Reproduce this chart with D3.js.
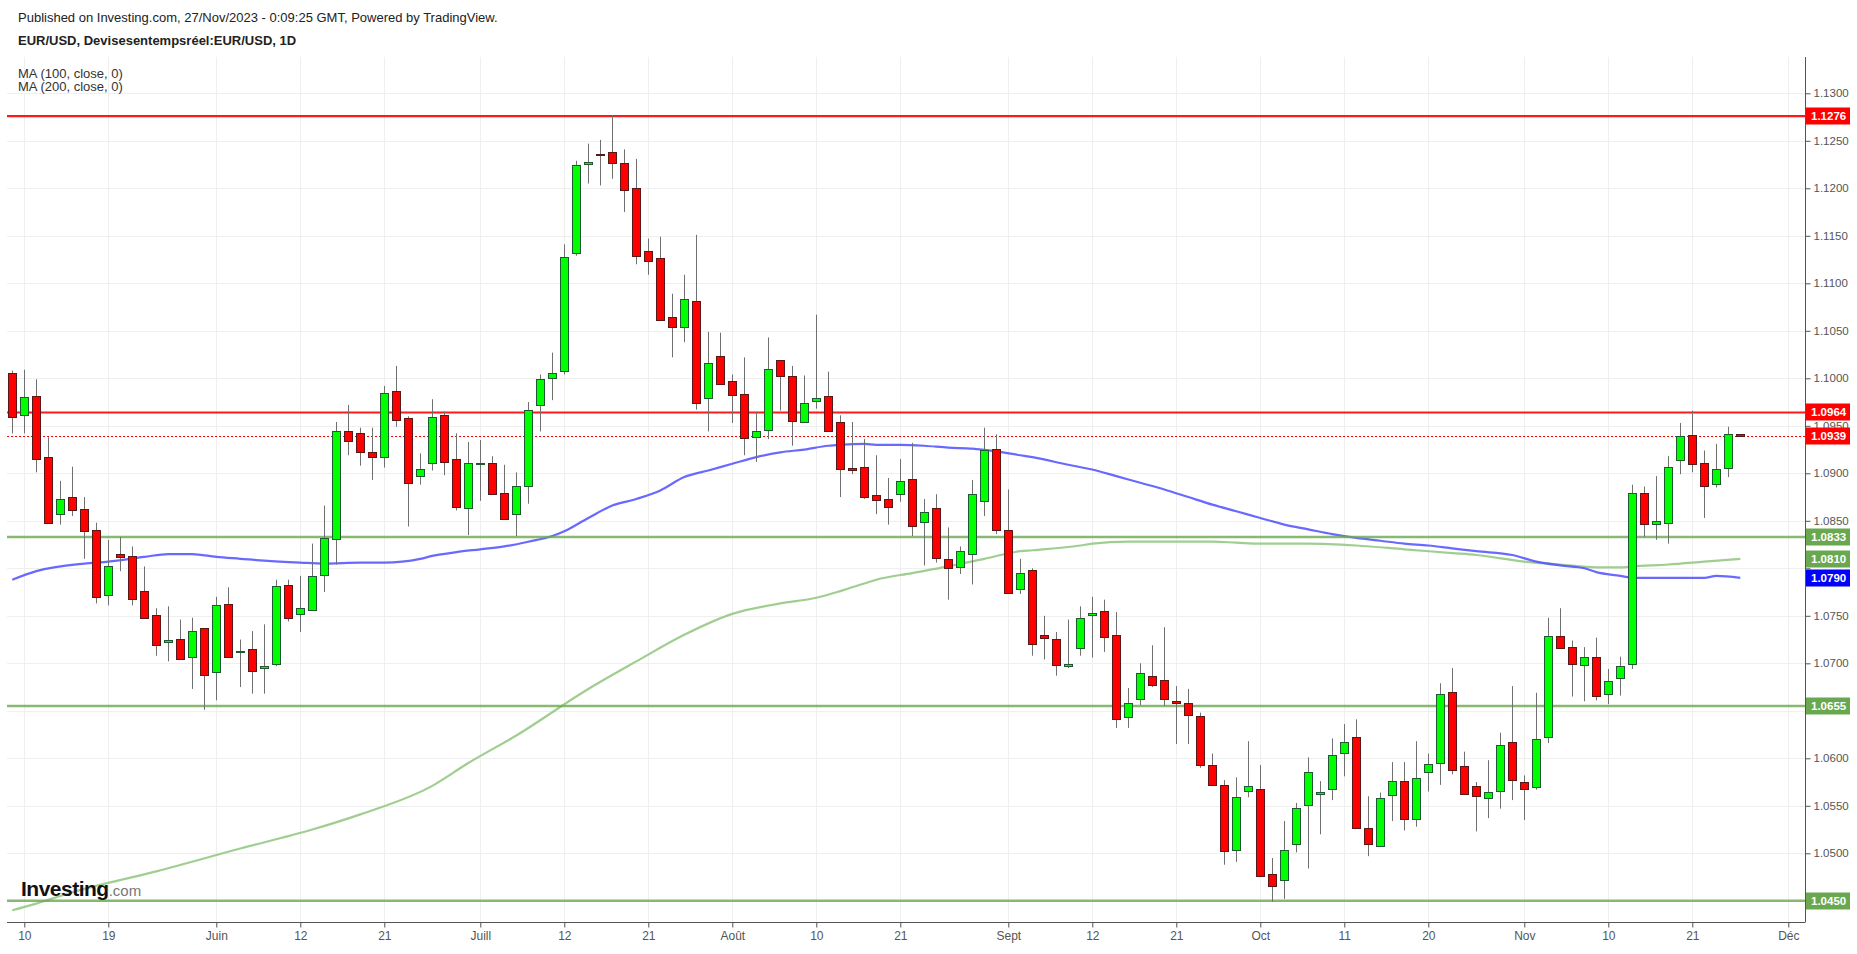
<!DOCTYPE html>
<html><head><meta charset="utf-8">
<script src="https://cdn.jsdelivr.net/npm/d3@7"></script>
<style>
html,body{margin:0;padding:0;background:#fff;}
svg{display:block;font-family:"Liberation Sans",Arial,sans-serif;}
</style></head><body>
<svg id="chart" width="1857" height="954"></svg>
<script>
// ---------- DATA (daily EUR/USD, first candle 2023-05-09, weekdays) ----------
const firstDay = "2023-05-09";
const opens = [1.1006,1.0961,1.0981,1.0917,1.0857,1.0875,1.0862,1.0840,1.0772,1.0815,
1.0813,1.0776,1.0751,1.0722,1.0726,1.0707,1.0737,1.0691,1.0762,1.0712,
1.0715,1.0695,1.0699,1.0782,1.0752,1.0756,1.0793,1.0831,1.0944,1.0942,
1.0922,1.0917,1.0987,1.0958,1.0897,1.0911,1.0961,1.0915,1.0864,1.0910,
1.0911,1.0879,1.0858,1.0887,1.0972,1.1001,1.1008,1.1131,1.1226,1.1236,
1.1238,1.1227,1.1200,1.1134,1.1127,1.1065,1.1054,1.1081,1.0979,1.1023,
1.0997,1.0983,1.0938,1.0946,1.1019,1.1002,1.0954,1.0976,1.0981,1.0954,
1.0906,1.0907,1.0877,1.0873,1.0878,1.0894,1.0848,1.0863,1.0810,1.0801,
1.0815,1.0870,1.0926,1.0840,1.0778,1.0798,1.0730,1.0726,1.0697,1.0716,
1.0751,1.0755,1.0730,1.0643,1.0663,1.0687,1.0682,1.0660,1.0658,1.0645,
1.0593,1.0572,1.0503,1.0566,1.0568,1.0478,1.0471,1.0510,1.0551,1.0563,
1.0567,1.0605,1.0622,1.0527,1.0507,1.0561,1.0576,1.0536,1.0586,1.0595,
1.0670,1.0592,1.0571,1.0558,1.0566,1.0617,1.0575,1.0569,1.0623,1.0729,
1.0717,1.0699,1.0707,1.0667,1.0684,1.0699,1.0879,1.0847,1.0848,1.0914,
1.0940,1.0911,1.0888,1.0905,1.0941];
const highs = [1.1008,1.1009,1.0999,1.0938,1.0892,1.0907,1.0875,1.0848,1.0830,1.0833,
1.0823,1.0802,1.0758,1.0760,1.0746,1.0748,1.0737,1.0770,1.0780,1.0725,
1.0734,1.0741,1.0788,1.0788,1.0792,1.0826,1.0866,1.0954,1.0972,1.0948,
1.0948,1.0992,1.1013,1.0960,1.0921,1.0978,1.0965,1.0942,1.0933,1.0935,
1.0918,1.0909,1.0901,1.0975,1.1004,1.1027,1.1141,1.1229,1.1247,1.1251,
1.1277,1.1241,1.1231,1.1147,1.1149,1.1089,1.1109,1.1151,1.1049,1.1048,
1.1004,1.1022,1.0965,1.1043,1.1019,1.1013,1.1003,1.1067,1.1007,1.0961,
1.0954,1.0936,1.0919,1.0895,1.0915,1.0932,1.0873,1.0878,1.0843,1.0823,
1.0893,1.0948,1.0941,1.0883,1.0810,1.0800,1.0750,1.0733,1.0746,1.0760,
1.0770,1.0767,1.0754,1.0674,1.0700,1.0719,1.0738,1.0676,1.0673,1.0648,
1.0605,1.0577,1.0580,1.0618,1.0593,1.0495,1.0534,1.0553,1.0601,1.0576,
1.0621,1.0636,1.0641,1.0560,1.0564,1.0596,1.0596,1.0618,1.0605,1.0679,
1.0695,1.0607,1.0575,1.0598,1.0627,1.0676,1.0582,1.0669,1.0748,1.0758,
1.0724,1.0717,1.0727,1.0694,1.0707,1.0888,1.0886,1.0897,1.0918,1.0953,
1.0966,1.0924,1.0931,1.0949,1.0941];
const lows = [1.0942,1.0942,1.0901,1.0848,1.0846,1.0855,1.0810,1.0763,1.0761,1.0797,
1.0761,1.0748,1.0708,1.0702,1.0705,1.0673,1.0651,1.0661,1.0706,1.0675,
1.0668,1.0668,1.0697,1.0744,1.0733,1.0756,1.0775,1.0804,1.0919,1.0908,
1.0893,1.0906,1.0949,1.0844,1.0888,1.0903,1.0898,1.0861,1.0835,1.0871,
1.0878,1.0852,1.0834,1.0868,1.0944,1.0977,1.1004,1.1129,1.1205,1.1203,
1.1210,1.1175,1.1120,1.1109,1.1061,1.1022,1.1038,1.0967,1.0944,1.0994,
1.0953,1.0919,1.0912,1.0936,1.0966,1.0929,1.0953,1.0968,1.0944,1.0875,
1.0899,1.0873,1.0857,1.0846,1.0870,1.0834,1.0803,1.0806,1.0767,1.0794,
1.0783,1.0855,1.0836,1.0773,1.0773,1.0708,1.0704,1.0687,1.0695,1.0708,
1.0706,1.0712,1.0632,1.0632,1.0656,1.0675,1.0655,1.0615,1.0615,1.0590,
1.0573,1.0488,1.0491,1.0559,1.0476,1.0449,1.0452,1.0501,1.0484,1.0520,
1.0556,1.0581,1.0526,1.0497,1.0507,1.0534,1.0524,1.0528,1.0565,1.0572,
1.0583,1.0563,1.0523,1.0537,1.0547,1.0556,1.0535,1.0567,1.0616,1.0716,
1.0665,1.0660,1.0661,1.0657,1.0666,1.0694,1.0833,1.0830,1.0826,1.0899,
1.0901,1.0853,1.0885,1.0896,1.0939];
const closes = [1.0960,1.0980,1.0915,1.0848,1.0873,1.0861,1.0839,1.0770,1.0802,1.0812,
1.0768,1.0748,1.0719,1.0724,1.0705,1.0734,1.0688,1.0761,1.0706,1.0713,
1.0692,1.0697,1.0781,1.0747,1.0758,1.0792,1.0832,1.0945,1.0934,1.0922,
1.0917,1.0984,1.0957,1.0890,1.0904,1.0959,1.0912,1.0864,1.0911,1.0911,
1.0878,1.0852,1.0887,1.0967,1.0999,1.1006,1.1128,1.1224,1.1228,1.1235,
1.1226,1.1199,1.1128,1.1123,1.1062,1.1054,1.1083,1.0974,1.1016,1.0994,
1.0982,1.0937,1.0944,1.1010,1.1002,1.0955,1.0974,1.0979,1.0944,1.0904,
1.0904,1.0875,1.0872,1.0865,1.0892,1.0844,1.0859,1.0810,1.0800,1.0818,
1.0878,1.0924,1.0841,1.0774,1.0795,1.0720,1.0727,1.0699,1.0699,1.0748,
1.0753,1.0728,1.0642,1.0658,1.0690,1.0677,1.0662,1.0658,1.0645,1.0593,
1.0572,1.0503,1.0559,1.0571,1.0476,1.0465,1.0503,1.0548,1.0586,1.0565,
1.0603,1.0617,1.0526,1.0510,1.0558,1.0576,1.0536,1.0579,1.0594,1.0668,
1.0588,1.0563,1.0560,1.0564,1.0614,1.0577,1.0568,1.0620,1.0729,1.0716,
1.0699,1.0707,1.0666,1.0681,1.0697,1.0879,1.0846,1.0850,1.0907,1.0939,
1.0909,1.0887,1.0904,1.0941,1.0939];

// moving averages (trading-day index -> value)
const ma100Idx = [0,2,6,8,11,13,15,17,19,21,24,26,29,31,34,35,37,39,41,43,45,46,48,50,52,54,56,58,60,62,64,66,68,69,71,72,74,76,78,80,82,84,85,88,90,92,94,96,98,100,102,104,106,108,110,112,114,116,118,120,122,125,127,129,131,132,134,135,138,141,142,144];
const ma100Val = [1.0788,1.0797,1.0805,1.0807,1.0812,1.0815,1.0815,1.0812,1.0810,1.0808,1.0806,1.0805,1.0806,1.0806,1.0810,1.0813,1.0817,1.0820,1.0823,1.0828,1.0834,1.0839,1.0853,1.0866,1.0873,1.0882,1.0896,1.0903,1.0910,1.0917,1.0922,1.0925,1.0929,1.0930,1.0931,1.0930,1.0930,1.0929,1.0927,1.0926,1.0923,1.0919,1.0917,1.0909,1.0904,1.0897,1.0890,1.0883,1.0875,1.0867,1.0860,1.0853,1.0846,1.0841,1.0836,1.0832,1.0829,1.0826,1.0824,1.0821,1.0818,1.0814,1.0807,1.0803,1.0800,1.0796,1.0792,1.0790,1.0790,1.0790,1.0792,1.0790];
const ma200Idx = [0,2,5,12,19,25,29,35,38,42,48,52,56,60,64,67,69,71,72,75,78,81,84,85,89,90,93,95,100,102,104,108,112,116,120,122,126,129,132,134,135,138,141,144];
const ma200Val = [1.0440,1.0447,1.0459,1.0481,1.0505,1.0525,1.0541,1.0571,1.0595,1.0624,1.0673,1.0702,1.0730,1.0752,1.0763,1.0769,1.0776,1.0784,1.0788,1.0795,1.0802,1.0810,1.0818,1.0819,1.0824,1.0826,1.0828,1.0828,1.0828,1.0827,1.0826,1.0826,1.0824,1.0820,1.0816,1.0814,1.0807,1.0804,1.0801,1.0801,1.0802,1.0804,1.0807,1.0810];

// horizontal levels
const redLevels = [1.1276, 1.0964];
const greenLevels = [1.0833, 1.0655, 1.0450];
const lastPrice = 1.0939;
const maLast100 = 1.0790, maLast200 = 1.0810;

// axis labels
const priceTicks = [1.1300,1.1250,1.1200,1.1150,1.1100,1.1050,1.1000,1.0950,1.0900,1.0850,1.0800,1.0750,1.0700,1.0650,1.0600,1.0550,1.0500,1.0450];
const dateTickDays = ["2023-05-10","2023-05-19","2023-06-01","2023-06-12","2023-06-21","2023-07-03","2023-07-12","2023-07-21","2023-08-01","2023-08-10","2023-08-21","2023-09-01","2023-09-12","2023-09-21","2023-10-02","2023-10-11","2023-10-20","2023-11-01","2023-11-10","2023-11-21","2023-12-01"];
const dateTickLabels = ["10","19","Juin","12","21","Juill","12","21","Août","10","21","Sept","12","21","Oct","11","20","Nov","10","21","Déc"];

// ---------- trading-day calendar ----------
const days = [];
{ let d = new Date(firstDay + "T00:00:00Z");
  while (days.length < 160) { const w = d.getUTCDay(); if (w !== 0 && w !== 6) days.push(d.toISOString().slice(0,10)); d.setUTCDate(d.getUTCDate()+1); } }
const dayIndex = s => days.indexOf(s);

// ---------- layout ----------
const W = 1857, H = 954;
const plot = {left: 7, right: 1805, top: 57, bottom: 922};
const x = d3.scaleLinear().domain([0, 148]).range([12.3, 1788.3]);
const y = d3.scaleLinear().domain([1.13, 1.045]).range([93.3, 900.8]);

const svg = d3.select("#chart");
svg.append("rect").attr("width", W).attr("height", H).attr("fill", "#fff");

svg.append("defs").append("clipPath").attr("id","clip").append("rect")
  .attr("x", plot.left).attr("y", plot.top).attr("width", plot.right-plot.left).attr("height", plot.bottom-plot.top);

// grid
const grid = svg.append("g");
grid.selectAll("line.v").data(dateTickDays).join("line")
  .attr("x1", d => Math.round(x(dayIndex(d)))+0.5).attr("x2", d => Math.round(x(dayIndex(d)))+0.5)
  .attr("y1", plot.top).attr("y2", plot.bottom).attr("stroke", "#efefef");
grid.selectAll("line.h").data(priceTicks).join("line")
  .attr("y1", d => Math.round(y(d))+0.5).attr("y2", d => Math.round(y(d))+0.5)
  .attr("x1", plot.left).attr("x2", plot.right).attr("stroke", "#efefef");

const g = svg.append("g").attr("clip-path", "url(#clip)");

// MA lines
const line = d3.line().x(d => x(d[0])).y(d => y(d[1])).curve(d3.curveMonotoneX);
g.append("path").datum(ma200Idx.map((k,i)=>[k, ma200Val[i]]))
  .attr("d", line).attr("fill","none").attr("stroke","#8ec67c").attr("stroke-opacity",0.85).attr("stroke-width",2.2);
g.append("path").datum(ma100Idx.map((k,i)=>[k, ma100Val[i]]))
  .attr("d", line).attr("fill","none").attr("stroke","#4f4fff").attr("stroke-opacity",0.85).attr("stroke-width",2.2);

// horizontal levels
g.selectAll("line.red").data(redLevels).join("line")
  .attr("x1", plot.left).attr("x2", plot.right).attr("y1", d=>y(d)).attr("y2", d=>y(d))
  .attr("stroke","#ff0000").attr("stroke-width",2.2).attr("stroke-opacity",0.9);
g.selectAll("line.green").data(greenLevels).join("line")
  .attr("x1", plot.left).attr("x2", plot.right).attr("y1", d=>y(d)).attr("y2", d=>y(d))
  .attr("stroke","#6aa84f").attr("stroke-width",2.4).attr("stroke-opacity",0.8);
g.append("line").attr("x1", plot.left).attr("x2", plot.right)
  .attr("y1", Math.round(y(lastPrice))+0.5).attr("y2", Math.round(y(lastPrice))+0.5)
  .attr("stroke","#ff0000").attr("stroke-width",1).attr("stroke-dasharray","2,2");

// candles
const candles = g.append("g").selectAll("g").data(opens.map((o,i)=>({i, o, h:highs[i], l:lows[i], c:closes[i]}))).join("g");
candles.append("line")
  .attr("x1", d => Math.round(x(d.i))+0.5).attr("x2", d => Math.round(x(d.i))+0.5)
  .attr("y1", d => y(d.h)).attr("y2", d => y(d.l)).attr("stroke", "#707070").attr("stroke-width",1);
candles.append("rect")
  .attr("x", d => Math.round(x(d.i)) - 3.5)
  .attr("width", 8)
  .attr("y", d => Math.round(y(Math.max(d.o,d.c)))+0.5)
  .attr("height", d => Math.max(1, Math.round(Math.abs(y(d.o)-y(d.c)))))
  .attr("fill", d => d.c >= d.o ? "#00ff00" : "#ff0000")
  .attr("stroke", d => d.c >= d.o ? "#1d5a30" : "#5a1717")
  .attr("stroke-width", 1);

// right price tags (values that get a coloured box)
const tags = [
  {v: redLevels[0], bg: "#ff0000"}, {v: redLevels[1], bg: "#ff0000"}, {v: lastPrice, bg: "#ff0000"},
  {v: greenLevels[0], bg: "#6aa84f"}, {v: maLast200, bg: "#6aa84f"}, {v: maLast100, bg: "#0000ff"},
  {v: greenLevels[1], bg: "#6aa84f"}, {v: greenLevels[2], bg: "#6aa84f"}];

// axes
const yAxis = svg.append("g").attr("transform", `translate(${plot.right+0.5},0)`)
  .call(d3.axisRight(y).tickValues(priceTicks).tickFormat(d3.format(".4f")).tickSize(5).tickPadding(3));
yAxis.select(".domain").attr("d", `M0,${plot.top}V${plot.bottom}`).attr("stroke","#555");
yAxis.selectAll(".tick line").attr("stroke","#555");
yAxis.selectAll(".tick text").attr("fill","#555").attr("font-size","11.5px").attr("font-family","Liberation Sans, Arial, sans-serif")
  .attr("display", d => tags.some(t => Math.abs(y(t.v) - y(d)) < 10) ? "none" : null);

const xAxis = svg.append("g").attr("transform", `translate(0,${plot.bottom+0.5})`)
  .call(d3.axisBottom(x).tickValues(dateTickDays.map(dayIndex)).tickFormat((d,i)=>dateTickLabels[i]).tickSize(5).tickPadding(4));
xAxis.select(".domain").attr("d", `M${plot.left},0H${plot.right+0.5}`).attr("stroke","#555");
xAxis.selectAll(".tick line").attr("stroke","#555");
xAxis.selectAll(".tick text").attr("fill","#555").attr("font-size","12px")
  .attr("font-family","Liberation Sans Narrow, Liberation Sans, Arial, sans-serif");

const tg = svg.append("g").selectAll("g").data(tags).join("g")
  .attr("transform", d => `translate(${plot.right+1},${Math.round(y(d.v))})`);
tg.append("rect").attr("x",0).attr("y",-8.5).attr("width",44).attr("height",17).attr("fill", d=>d.bg);
tg.append("text").attr("x",5).attr("y",4).attr("fill","#fff").attr("font-weight","bold")
  .attr("font-size","11.5px").text(d => d3.format(".4f")(d.v));

// header
svg.append("text").attr("x",18).attr("y",22).attr("font-size","13px").attr("fill","#222")
  .text("Published on Investing.com, 27/Nov/2023 - 0:09:25 GMT, Powered by TradingView.");
svg.append("text").attr("x",18).attr("y",45).attr("font-size","13px").attr("font-weight","bold").attr("fill","#222")
  .text("EUR/USD, Devisesentempsréel:EUR/USD, 1D");
svg.append("text").attr("x",18).attr("y",78).attr("font-size","13px").attr("fill","#333").text("MA (100, close, 0)");
svg.append("text").attr("x",18).attr("y",91).attr("font-size","13px").attr("fill","#333").text("MA (200, close, 0)");

// logo
const logo = svg.append("text").attr("x",21).attr("y",896);
logo.append("tspan").attr("font-size","21px").attr("font-weight","bold").attr("fill","#111").attr("letter-spacing","-0.5").text("Investing");
logo.append("tspan").attr("font-size","15px").attr("fill","#777").text(".com");
</script>
</body></html>
